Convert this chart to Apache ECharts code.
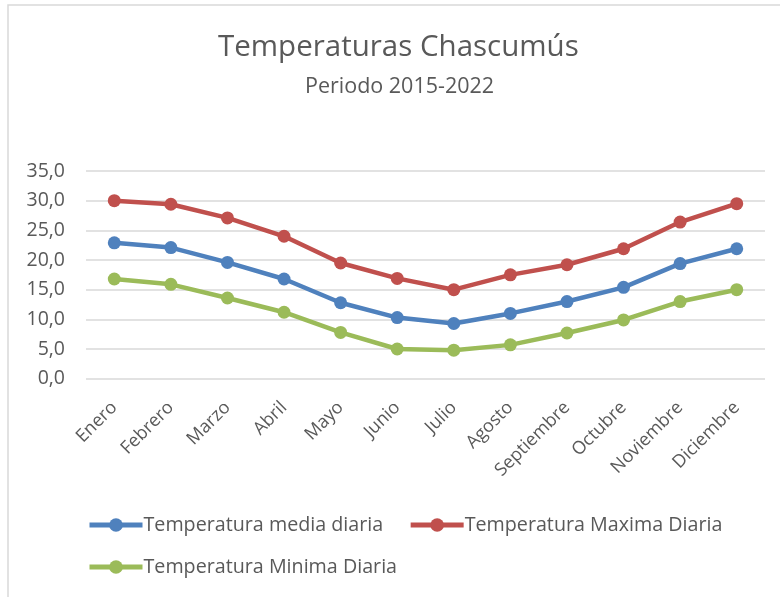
<!DOCTYPE html>
<html>
<head>
<meta charset="utf-8">
<script src="https://cdn.jsdelivr.net/npm/echarts@6/dist/echarts.min.js"></script>
<style>
  html, body { margin: 0; padding: 0; background: #fff; }
  #chart { width: 780px; height: 597px; }
</style>
</head>
<body>
<div id="chart"></div>
<script>
// Monthly temperatures, Chascumús 2015-2022 (°C)
const meses = ['Enero', 'Febrero', 'Marzo', 'Abril', 'Mayo', 'Junio', 'Julio',
  'Agosto', 'Septiembre', 'Octubre', 'Noviembre', 'Diciembre'];
const tempMedia = [22.9, 22.1, 19.6, 16.8, 12.8, 10.3, 9.3, 11.0, 13.0, 15.4, 19.4, 21.9];
const tempMaxima = [30.0, 29.4, 27.1, 24.0, 19.5, 16.9, 15.0, 17.5, 19.2, 21.9, 26.4, 29.5];
const tempMinima = [16.8, 15.9, 13.6, 11.2, 7.8, 5.0, 4.8, 5.7, 7.7, 9.9, 13.0, 15.0];

const nombres = ['Temperatura media diaria', 'Temperatura Maxima Diaria', 'Temperatura Minima Diaria'];
const colores = ['#4F81BD', '#C0504D', '#9BBB59'];
const FONT = 'Open Sans';
const GRIS = '#595959';

const chart = echarts.init(document.getElementById('chart'), null, { renderer: 'canvas' });

function serie(nombre, datos, color) {
  return {
    name: nombre,
    type: 'line',
    data: datos,
    symbol: 'circle',
    symbolSize: 13,
    color: color,
    lineStyle: { width: 4.5, color: color },
    itemStyle: { color: color },
    emphasis: { disabled: true },
    animation: false
  };
}

const legendBase = {
  left: 87,
  padding: 0,
  itemWidth: 53,
  itemHeight: 17,
  itemGap: 25,
  lineStyle: { width: 5 },
  textStyle: { fontFamily: FONT, fontSize: 19.7, color: GRIS, padding: [0, 0, 0, -4] },
  selectedMode: false
};

chart.setOption({
  backgroundColor: '#fff',
  textStyle: { fontFamily: FONT },
  title: [
    {
      text: 'Temperaturas Chascumús',
      left: 218,
      top: 33,
      padding: 0,
      textStyle: { fontFamily: FONT, fontSize: 29.5, fontWeight: 'normal', color: GRIS }
    },
    {
      text: 'Periodo 2015-2022',
      left: 305,
      top: 76,
      padding: 0,
      textStyle: { fontFamily: FONT, fontSize: 21.5, fontWeight: 'normal', color: GRIS }
    }
  ],
  legend: [
    Object.assign({}, legendBase, { top: 515, data: [nombres[0], nombres[1]] }),
    Object.assign({}, legendBase, { top: 557, data: [nombres[2]] })
  ],
  grid: { left: 86, right: 15, top: 171, height: 207.7, containLabel: false },
  xAxis: {
    type: 'category',
    data: meses,
    boundaryGap: true,
    axisLine: { show: false },
    axisTick: { show: false },
    axisLabel: {
      rotate: 45,
      interval: 0,
      margin: 26,
      fontFamily: FONT,
      fontSize: 18,
      color: GRIS
    }
  },
  yAxis: {
    type: 'value',
    min: 0,
    max: 35,
    interval: 5,
    axisLine: { show: false },
    axisTick: { show: false },
    axisLabel: {
      margin: 21,
      fontFamily: FONT,
      fontSize: 19.5,
      color: GRIS,
      formatter: v => v.toFixed(1).replace('.', ',')
    },
    splitLine: { lineStyle: { color: '#D9D9D9', width: 1.5 } }
  },
  graphic: [
    {
      type: 'rect',
      shape: { x: 8, y: 5, width: 800, height: 620 },
      style: { fill: null, stroke: '#D9D9D9', lineWidth: 1.5 },
      silent: true,
      z: -1
    }
  ],
  series: [
    serie(nombres[0], tempMedia, colores[0]),
    serie(nombres[1], tempMaxima, colores[1]),
    serie(nombres[2], tempMinima, colores[2])
  ]
});
</script>
</body>
</html>
